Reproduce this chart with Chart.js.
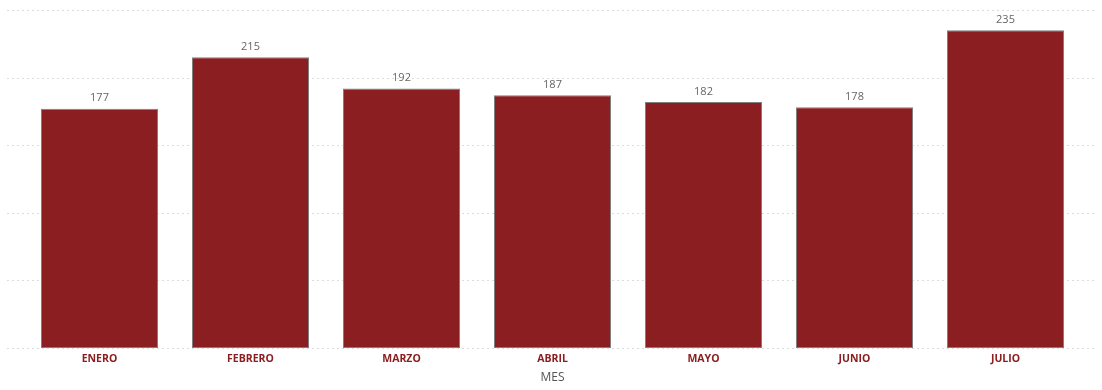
<!DOCTYPE html>
<html>
<head>
<meta charset="utf-8">
<script src="https://cdn.jsdelivr.net/npm/chart.js@4"></script>
<style>
  html, body { margin: 0; padding: 0; background: #fff; }
  #wrap { width: 1102px; height: 390px; }
</style>
</head>
<body>
<div id="wrap"><canvas id="mainChart"></canvas></div>
<script>
const meses = ['ENERO', 'FEBRERO', 'MARZO', 'ABRIL', 'MAYO', 'JUNIO', 'JULIO'];
const totales = [177, 215, 192, 187, 182, 178, 235];
const yTicks = [0, 50, 100, 150, 200, 250];

// dotted horizontal guides, a bit wider than the plot area
const gridPlugin = {
  id: 'dottedGrid',
  beforeDatasetsDraw(chart) {
    const { ctx, scales } = chart;
    ctx.save();
    ctx.strokeStyle = '#dcdcdc';
    ctx.lineWidth = 1;
    ctx.setLineDash([2, 3]);
    yTicks.forEach(v => {
      const y = Math.round(scales.y.getPixelForValue(v)) + 0.5;
      ctx.beginPath();
      ctx.moveTo(7, y);
      ctx.lineTo(1095, y);
      ctx.stroke();
    });
    ctx.restore();
  }
};

// value labels on top of each bar
const labelPlugin = {
  id: 'barValues',
  afterDatasetsDraw(chart) {
    const { ctx } = chart;
    const meta = chart.getDatasetMeta(0);
    ctx.save();
    ctx.fillStyle = '#666';
    ctx.font = '11px "Open Sans", sans-serif';
    ctx.textAlign = 'center';
    ctx.textBaseline = 'bottom';
    meta.data.forEach((bar, i) => {
      ctx.fillText(totales[i], bar.x, bar.y - 5);
    });
    ctx.restore();
  }
};

new Chart(document.getElementById('mainChart'), {
  type: 'bar',
  data: {
    labels: meses,
    datasets: [{
      data: totales,
      backgroundColor: '#8b1e20',
      borderColor: '#808080',
      borderWidth: 1,
      borderSkipped: false,
      categoryPercentage: 1,
      barPercentage: 0.775
    }]
  },
  options: {
    responsive: true,
    maintainAspectRatio: false,
    animation: false,
    layout: { padding: { left: 24, right: 21, top: 10, bottom: 2 } },
    plugins: {
      legend: { display: false },
      tooltip: { enabled: false }
    },
    scales: {
      y: {
        display: false,
        min: 0,
        max: 250
      },
      x: {
        grid: { display: false, drawTicks: false },
        border: { display: false },
        ticks: {
          color: '#8b1e20',
          font: { family: '"Open Sans", sans-serif', size: 10.5, weight: 'bold' },
          padding: 5
        },
        title: {
          display: true,
          text: 'MES',
          color: '#555',
          font: { family: '"Open Sans", sans-serif', size: 12 },
          padding: { top: 0, bottom: 3 }
        }
      }
    }
  },
  plugins: [gridPlugin, labelPlugin]
});
</script>
</body>
</html>
